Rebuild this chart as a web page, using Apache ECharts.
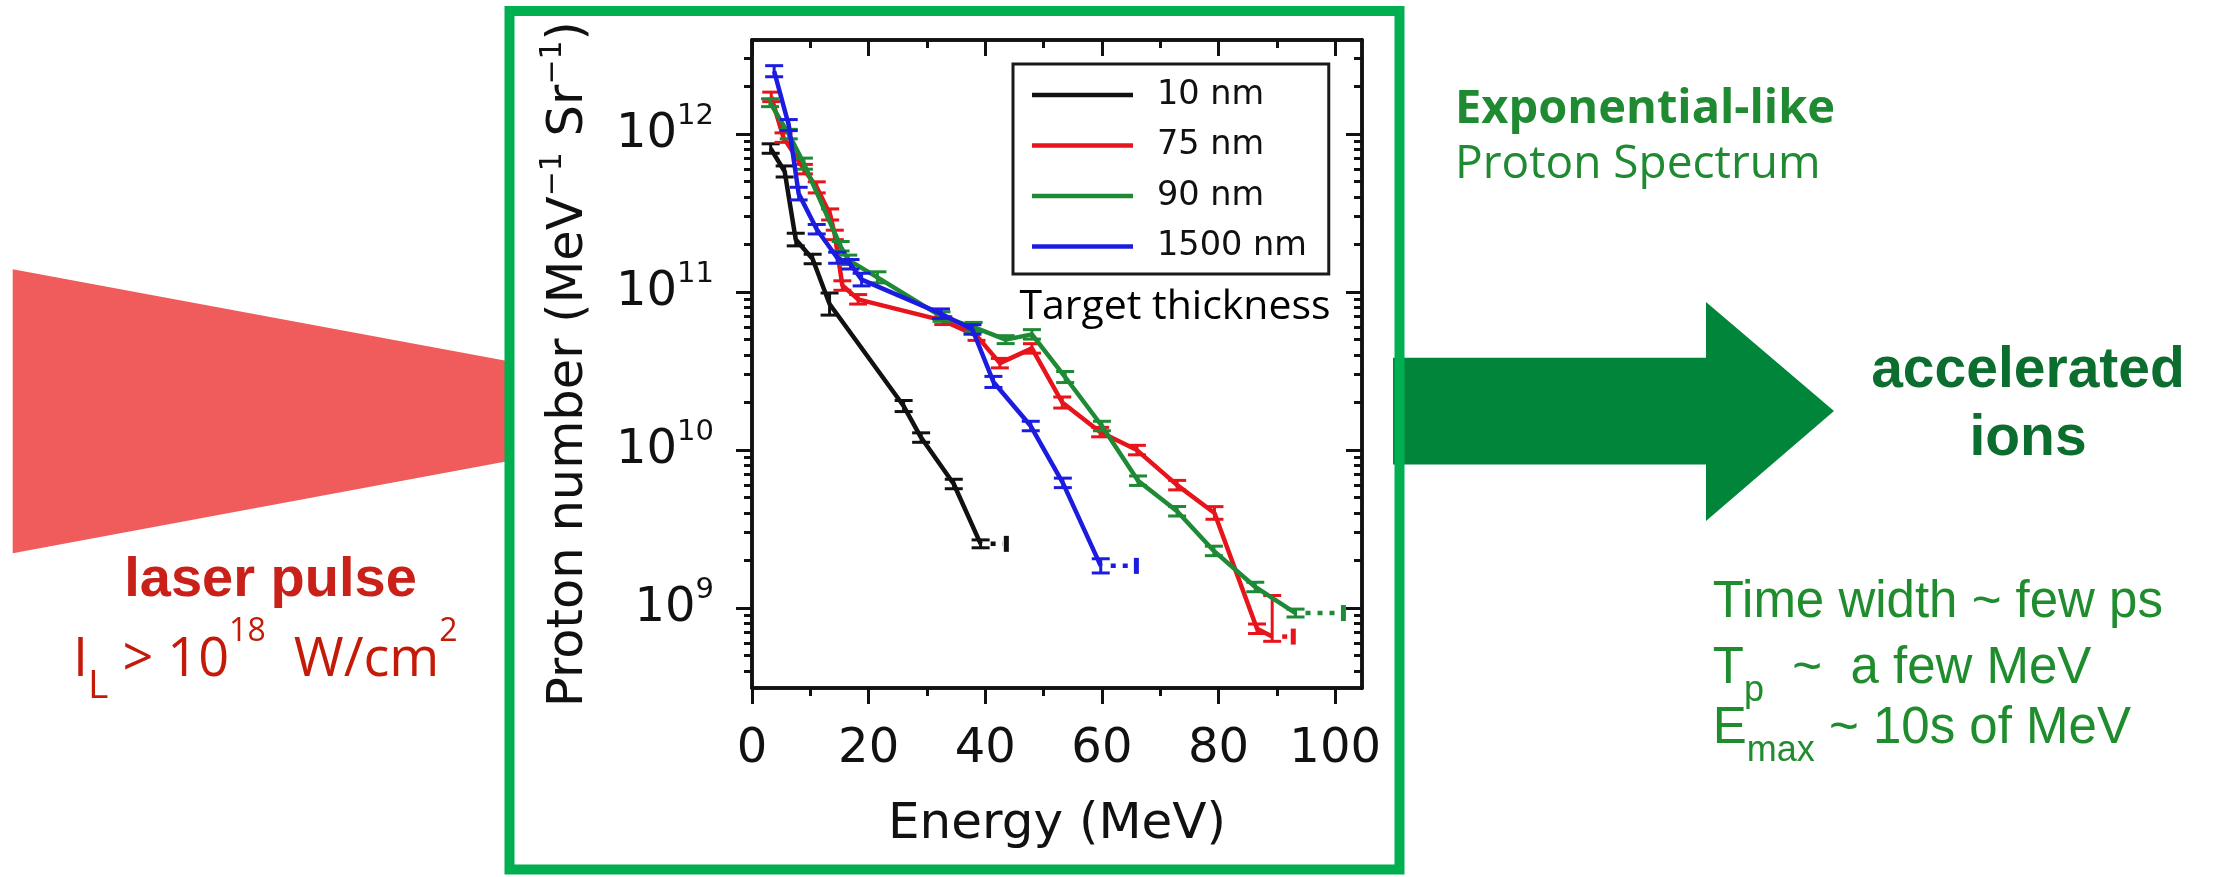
<!DOCTYPE html>
<html><head><meta charset="utf-8">
<script src="https://cdn.jsdelivr.net/npm/echarts@6/dist/echarts.min.js"></script>
<style>html,body{margin:0;padding:0;background:#fff}#c{width:2215px;height:877px}</style>
</head><body><div id="c"></div>
<script>
// ---- data ----
const seriesNames = ['10 nm', '75 nm', '90 nm', '1500 nm'];
const energy10 = [3.2, 5.6, 7.5, 10.4, 13.3, 26.0, 29.0, 34.6, 39.2];
const counts10 = [8.1e11, 5.8e11, 2.15e11, 1.62e11, 8.4e10, 1.9e10, 1.2e10, 6.1e9, 2.55e9];
const err10 = [0.03, 0.035, 0.04, 0.03, 0.07, 0.035, 0.03, 0.03, 0.025];

const energy75 = [3.3, 5.4, 8.9, 11.1, 13.4, 14.2, 15.5, 18.2, 32.8, 38.5, 42.5, 48.0, 53.2, 59.7, 66.0, 72.9, 79.3, 86.6, 89.2];
const counts75 = [1.72e12, 9.5e11, 6.0e11, 4.6e11, 3.1e11, 2.3e11, 1.1e11, 9.0e10, 6.6e10, 5.3e10, 3.55e10, 4.4e10, 2.0e10, 1.3e10, 1.0e10, 6.0e9, 4.0e9, 7.4e8, 6.6e8];
const err75 = [0.03, 0.03, 0.03, 0.035, 0.035, 0.03, 0.03, 0.03, 0.025, 0.03, 0.03, 0.03, 0.035, 0.03, 0.03, 0.03, 0.04, 0.03, 0.03];
const errUp75 = [0.03, 0.03, 0.03, 0.035, 0.035, 0.03, 0.03, 0.03, 0.025, 0.03, 0.03, 0.03, 0.035, 0.03, 0.03, 0.03, 0.04, 0.03, 0.26];

const energy90 = [3.1, 6.3, 8.9, 15.2, 16.5, 21.5, 32.5, 38.0, 43.5, 48.0, 53.7, 60.0, 66.2, 72.9, 79.2, 86.3, 93.2];
const counts90 = [1.58e12, 1.0e12, 6.5e11, 1.95e11, 1.6e11, 1.24e11, 7.0e10, 6.0e10, 5.0e10, 5.4e10, 2.9e10, 1.42e10, 6.4e9, 4.1e9, 2.3e9, 1.36e9, 9.3e8];
const err90 = [0.025, 0.03, 0.035, 0.03, 0.03, 0.035, 0.03, 0.03, 0.025, 0.03, 0.035, 0.03, 0.03, 0.03, 0.03, 0.03, 0.025];

const energy1500 = [3.8, 6.3, 8.0, 11.1, 14.6, 16.9, 18.8, 32.4, 37.8, 41.4, 47.8, 53.3, 59.8];
const counts1500 = [2.5e12, 1.14e12, 4.2e11, 2.5e11, 1.65e11, 1.5e11, 1.2e11, 7.3e10, 5.8e10, 2.7e10, 1.42e10, 6.2e9, 1.85e9];
const err1500 = [0.035, 0.035, 0.04, 0.03, 0.035, 0.03, 0.04, 0.03, 0.03, 0.035, 0.03, 0.03, 0.045];

// dotted extension end energies (10, 75, 90, 1500 nm)
const tailEnds = [43.7, 92.9, 101.5, 66.0];

// axis ticks
const xMin = 0, xMax = 104.6;
const xMajorTicks = [0, 20, 40, 60, 80, 100];
const xMinorTicks = [10, 30, 50, 70, 90];
const yMin = 3.12e8, yMax = 3.94e12;
const yMajorTicks = [1e9, 1e10, 1e11, 1e12];
const yMinorTicks = [];
for (let e = 8; e <= 12; e++) for (let k = 2; k <= 9; k++) { const v = k * Math.pow(10, e); if (v > yMin && v < yMax) yMinorTicks.push(v); }

const colors = ['#111111', '#e8141c', '#1e8a36', '#1c1ce0'];
const FONT = 'DejaVu Sans';

// ---- build ----
const energies = [energy10, energy75, energy90, energy1500];
const counts = [counts10, counts75, counts90, counts1500];
const errsLo = [err10, err75, err90, err1500];
const errsHi = [err10, errUp75, err90, err1500];

function errRender(color) {
  return function (params, api) {
    const x = api.value(0);
    const p1 = api.coord([x, api.value(1)]);
    const p2 = api.coord([x, api.value(2)]);
    const hw = 9;
    const mk = () => ({ stroke: color, lineWidth: 3 });
    return { type: 'group', children: [
      { type: 'line', shape: { x1: p1[0], y1: p1[1], x2: p2[0], y2: p2[1] }, style: mk() },
      { type: 'line', shape: { x1: p1[0] - hw, y1: p1[1], x2: p1[0] + hw, y2: p1[1] }, style: mk() },
      { type: 'line', shape: { x1: p2[0] - hw, y1: p2[1], x2: p2[0] + hw, y2: p2[1] }, style: mk() }
    ] };
  };
}
function tailRender(color) {
  return function (params, api) {
    const y = api.value(2);
    const a = api.coord([api.value(0), y]);
    const b = api.coord([api.value(1), y]);
    return { type: 'group', children: [
      { type: 'line', shape: { x1: a[0] + 10, y1: a[1], x2: b[0] - 4, y2: b[1] }, style: { stroke: color, lineWidth: 4.5, lineDash: [5, 7] } },
      { type: 'rect', shape: { x: b[0] - 3, y: b[1] - 8, width: 5, height: 16 }, style: { fill: color } }
    ] };
  };
}

const series = [];
for (let s = 0; s < 4; s++) {
  const E = energies[s], C = counts[s];
  series.push({
    type: 'line', name: seriesNames[s], xAxisIndex: 0, yAxisIndex: 0,
    data: E.map((e, i) => [e, C[i]]), symbol: 'none', showSymbol: false,
    lineStyle: { width: 4.5, color: colors[s] }, itemStyle: { color: colors[s] }, z: 3 + s
  });
  series.push({
    type: 'custom', xAxisIndex: 0, yAxisIndex: 0, z: 3 + s,
    encode: { x: 0, y: [1, 2] },
    data: E.map((e, i) => [e, C[i] / Math.pow(10, errsLo[s][i]), C[i] * Math.pow(10, errsHi[s][i])]),
    renderItem: errRender(colors[s])
  });
  const last = E.length - 1;
  series.push({
    type: 'custom', xAxisIndex: 0, yAxisIndex: 0, z: 3 + s,
    encode: { x: [0, 1], y: 2 },
    data: [[E[last], tailEnds[s], C[last]]],
    renderItem: tailRender(colors[s])
  });
}

const axisLineStyle = { show: true, onZero: false, lineStyle: { color: '#111', width: 3.5 } };
const tickStyle = { color: '#111', width: 3 };
function xAx(pos, ticks, len, inside, labels) {
  const a = {
    type: 'value', min: xMin, max: xMax, position: pos, gridIndex: 0,
    axisLine: axisLineStyle, splitLine: { show: false },
    axisTick: { show: true, inside: inside, length: len, lineStyle: tickStyle, customValues: ticks },
    axisLabel: labels ? { show: true, customValues: ticks, margin: 38, fontSize: 48, fontFamily: FONT, color: '#111' } : { show: false }
  };
  if (labels) {
    a.name = 'Energy (MeV)'; a.nameLocation = 'middle'; a.nameGap = 112;
    a.nameTextStyle = { fontSize: 50, fontFamily: FONT, color: '#111' };
  }
  return a;
}
function yAx(pos, ticks, len, inside, labels) {
  const a = {
    type: 'log', logBase: 10, min: yMin, max: yMax, position: pos, gridIndex: 0,
    axisLine: axisLineStyle, splitLine: { show: false },
    axisTick: { show: true, inside: inside, length: len, lineStyle: tickStyle, customValues: ticks },
    axisLabel: labels ? {
      show: true, customValues: ticks, margin: 38,
      formatter: v => '{b|10}{s|' + Math.round(Math.log10(v)) + '}',
      rich: {
        b: { fontSize: 48, fontFamily: FONT, color: '#111', lineHeight: 64 },
        s: { fontSize: 29, fontFamily: FONT, color: '#111', lineHeight: 30, verticalAlign: 'top' }
      }
    } : { show: false }
  };
  if (labels) {
    a.name = '{n|Proton number (MeV}{s|−1}{n| Sr}{s|−1}{n|)}';
    a.nameLocation = 'middle'; a.nameGap = 152;
    a.nameTextStyle = { rich: {
      n: { fontSize: 49.5, fontFamily: FONT, color: '#111', lineHeight: 62 },
      s: { fontSize: 30, fontFamily: FONT, color: '#111', lineHeight: 32, verticalAlign: 'top' }
    } };
  }
  return a;
}

const option = {
  animation: false,
  backgroundColor: '#ffffff',
  grid: { left: 752, top: 40, width: 610, height: 648, containLabel: false },
  xAxis: [
    xAx('bottom', xMajorTicks, 16, false, true),
    xAx('bottom', xMinorTicks, 8, false, false),
    xAx('top', xMajorTicks, 16, true, false),
    xAx('top', xMinorTicks, 8, true, false)
  ],
  yAxis: [
    yAx('left', yMajorTicks, 16, false, true),
    yAx('left', yMinorTicks, 8, false, false),
    yAx('right', yMajorTicks, 16, true, false),
    yAx('right', yMinorTicks, 8, true, false)
  ],
  legend: {
    data: seriesNames, orient: 'vertical', left: 1013, top: 64,
    padding: [11, 22, 7.5, 19], itemGap: 10.5, itemWidth: 101, itemHeight: 4.5, icon: 'rect',
    borderColor: '#1a1a1a', borderWidth: 3, selectedMode: false,
    textStyle: { fontSize: 33.5, fontFamily: FONT, color: '#111', lineHeight: 40, padding: [0, 0, 0, 19] }
  },
  graphic: { elements: [
    { type: 'polygon', shape: { points: [[12.7, 269.3], [510, 361.6], [510, 460.8], [12.7, 553.3]] }, style: { fill: '#f05b5b' } },
    { type: 'polygon', shape: { points: [[1393, 357.8], [1706, 357.8], [1706, 302], [1834, 411], [1706, 521], [1706, 464.4], [1393, 464.4]] }, style: { fill: '#00853a' } },
    { type: 'rect', shape: { x: 509.5, y: 11, width: 890, height: 858.5 }, style: { fill: 'none', stroke: '#00b050', lineWidth: 10 } },
    { type: 'text', style: { x: 270.5, y: 581, text: 'laser pulse', font: 'bold 56px "Liberation Sans"', fill: '#c9201a', align: 'center', verticalAlign: 'middle' } },
    { type: 'text', style: { x: 73, y: 661, align: 'left', verticalAlign: 'middle',
      text: '{b|I}{l|L}{b| > 10}{u|18}{b|  W/cm}{u|2}',
      rich: {
        b: { fontSize: 54, fontFamily: 'Open Sans', fill: '#c41a08', lineHeight: 90 },
        l: { fontSize: 39, fontFamily: 'Open Sans', fill: '#c41a08', lineHeight: 57, verticalAlign: 'bottom' },
        u: { fontSize: 32, fontFamily: 'Open Sans', fill: '#c41a08', lineHeight: 70, verticalAlign: 'top' }
      } } },
    { type: 'text', style: { x: 1019.4, y: 307, text: 'Target thickness', font: '41px "Open Sans"', fill: '#000', align: 'left', verticalAlign: 'middle' } },
    { type: 'text', style: { x: 1455, y: 110, text: 'Exponential-like', font: 'bold 47px "Open Sans"', fill: '#1f8a32', align: 'left', verticalAlign: 'middle' } },
    { type: 'text', style: { x: 1455, y: 165, text: 'Proton Spectrum', font: '46px "Open Sans"', fill: '#1f8a32', align: 'left', verticalAlign: 'middle' } },
    { type: 'text', style: { x: 2028, y: 371, text: 'accelerated', font: 'bold 57px "Liberation Sans"', fill: '#0c6e2e', align: 'center', verticalAlign: 'middle' } },
    { type: 'text', style: { x: 2028, y: 439, text: 'ions', font: 'bold 57px "Liberation Sans"', fill: '#0c6e2e', align: 'center', verticalAlign: 'middle' } },
    { type: 'text', style: { x: 1712.8, y: 603, text: 'Time width ~ few ps', font: '51px "Liberation Sans"', fill: '#1f8c2d', align: 'left', verticalAlign: 'middle' } },
    { type: 'text', style: { x: 1712.8, y: 669, align: 'left', verticalAlign: 'middle',
      text: '{b|T}{s|p}{b|  ~  a few MeV}',
      rich: {
        b: { fontSize: 51, fontFamily: 'Liberation Sans', fill: '#1f8c2d', lineHeight: 80 },
        s: { fontSize: 36, fontFamily: 'Liberation Sans', fill: '#1f8c2d', lineHeight: 44, verticalAlign: 'bottom' }
      } } },
    { type: 'text', style: { x: 1712.8, y: 729, align: 'left', verticalAlign: 'middle',
      text: '{b|E}{s|max}{b| ~ 10s of MeV}',
      rich: {
        b: { fontSize: 51, fontFamily: 'Liberation Sans', fill: '#1f8c2d', lineHeight: 80 },
        s: { fontSize: 36, fontFamily: 'Liberation Sans', fill: '#1f8c2d', lineHeight: 50, verticalAlign: 'bottom' }
      } } }
  ] },
  series: series
};

const chart = echarts.init(document.getElementById('c'), null, { renderer: 'canvas' });
chart.setOption(option);
</script></body></html>
